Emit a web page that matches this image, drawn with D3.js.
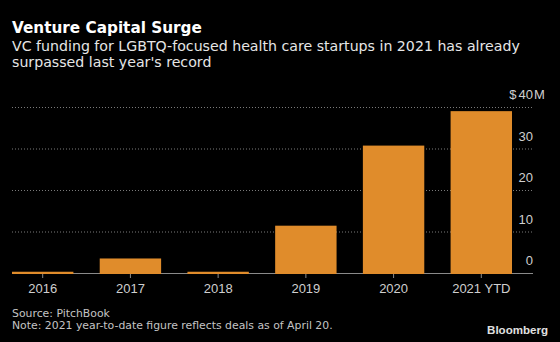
<!DOCTYPE html>
<html>
<head>
<meta charset="utf-8">
<script src="https://cdn.jsdelivr.net/npm/d3@7"></script>
<style>
  body { margin: 0; background: #000; }
  svg { display: block; }
  text { font-family: "Liberation Sans", Arial, sans-serif; }
</style>
</head>
<body>
<div id="chart"></div>
<script>
var categories = ["2016", "2017", "2018", "2019", "2020", "2021 YTD"];
var values = [0.3, 3.5, 0.3, 11.4, 30.7, 39.0];
var yTicks = [0, 10, 20, 30, 40];

var width = 560, height = 342;
var headFont = "'DejaVu Sans', Verdana, sans-serif";

var svg = d3.select("#chart")
    .append("svg")
    .attr("width", width)
    .attr("height", height)
    .style("background", "#000");

// scale a text's font size so it takes the given width
function fit(t, target) {
    var fs = parseFloat(t.style("font-size"));
    var w = t.node().getComputedTextLength();
    var nfs = fs * target / w;
    t.style("font-size", nfs + "px");
    return nfs;
}

// titles
var title = svg.append("text")
    .attr("x", 12).attr("y", 32.5)
    .attr("fill", "#fff")
    .style("font-family", headFont)
    .style("font-size", "14px")
    .style("font-weight", "bold")
    .text("Venture Capital Surge");
fit(title, 190);

var sub = ["VC funding for LGBTQ-focused health care startups in 2021 has already",
           "surpassed last year's record"];
var subSize;
sub.forEach(function(s, i) {
    var t = svg.append("text")
        .attr("x", 12).attr("y", 51 + i * 16.3)
        .attr("fill", "#e6e6e6")
        .style("font-family", headFont)
        .style("font-size", (subSize || 14) + "px")
        .text(s);
    if (i == 0) subSize = fit(t, 508);
});

var x = d3.scaleBand()
    .domain(categories)
    .range([12, 512])
    .paddingInner(0.3)
    .paddingOuter(0);

var y = d3.scaleLinear()
    .domain([0, 40])
    .range([273, 107]);

var gridRight = 533;

// gridlines
svg.selectAll(".grid")
    .data(yTicks.filter(function(d) { return d > 0; }))
    .enter()
    .append("line")
      .attr("class", "grid")
      .attr("x1", 12).attr("x2", gridRight)
      .attr("y1", function(d) { return y(d) + 0.5; })
      .attr("y2", function(d) { return y(d) + 0.5; })
      .attr("stroke", "#7a7a7a")
      .attr("stroke-width", 1)
      .attr("stroke-dasharray", "1,2");

// y labels
var yl = svg.append("g");
yTicks.forEach(function(d) {
    var t = yl.append("text")
        .attr("x", gridRight)
        .attr("y", y(d) - 8)
        .attr("text-anchor", "end")
        .attr("fill", "#cfcfcf")
        .style("font-size", "13px")
        .text(d);
    if (d == 40) {
        var w = t.node().getComputedTextLength();
        yl.append("text")
            .attr("x", gridRight - w - 2)
            .attr("y", y(d) - 8)
            .attr("text-anchor", "end")
            .attr("fill", "#cfcfcf")
            .style("font-size", "13px")
            .text("$");
        yl.append("text")
            .attr("x", gridRight + 1)
            .attr("y", y(d) - 8)
            .attr("fill", "#cfcfcf")
            .style("font-size", "13px")
            .text("M");
    }
});

// baseline
svg.append("line")
    .attr("x1", 12).attr("x2", gridRight)
    .attr("y1", y(0) + 0.5).attr("y2", y(0) + 0.5)
    .attr("stroke", "#8a8a8a")
    .attr("stroke-width", 1);

// bars
svg.selectAll(".bar")
    .data(values)
    .enter()
    .append("rect")
      .attr("class", "bar")
      .attr("x", function(d, i) { return x(categories[i]); })
      .attr("y", function(d) { return y(d); })
      .attr("width", x.bandwidth())
      .attr("height", function(d) { return y(0) - y(d) + 1; })
      .attr("fill", "#e08c2b");

// x axis ticks and labels
var xAxis = d3.axisBottom(x).tickSize(4).tickPadding(6);
var gx = svg.append("g")
    .attr("transform", "translate(0," + (y(0) + 1) + ")")
    .call(xAxis);
gx.select(".domain").remove();
gx.selectAll(".tick line").attr("stroke", "#8a8a8a");
gx.selectAll(".tick text")
    .attr("fill", "#cfcfcf")
    .style("font-size", "13px")
    .style("font-family", "'Liberation Sans', Arial, sans-serif");

// footer
var src = svg.append("text")
    .attr("x", 12).attr("y", 316.7)
    .attr("fill", "#c4c4c4")
    .style("font-family", headFont)
    .style("font-size", "11px")
    .text("Source: PitchBook");
var note = svg.append("text")
    .attr("x", 12).attr("y", 328.5)
    .attr("fill", "#c4c4c4")
    .style("font-family", headFont)
    .style("font-size", "11px")
    .text("Note: 2021 year-to-date figure reflects deals as of April 20.");
var noteSize = fit(note, 321);
src.style("font-size", noteSize + "px");

var logo = svg.append("text")
    .attr("x", 548).attr("y", 333.5)
    .attr("text-anchor", "end")
    .attr("fill", "#e0e0e0")
    .style("font-size", "11px")
    .style("font-weight", "bold")
    .text("Bloomberg");
fit(logo, 61);
</script>
</body>
</html>
